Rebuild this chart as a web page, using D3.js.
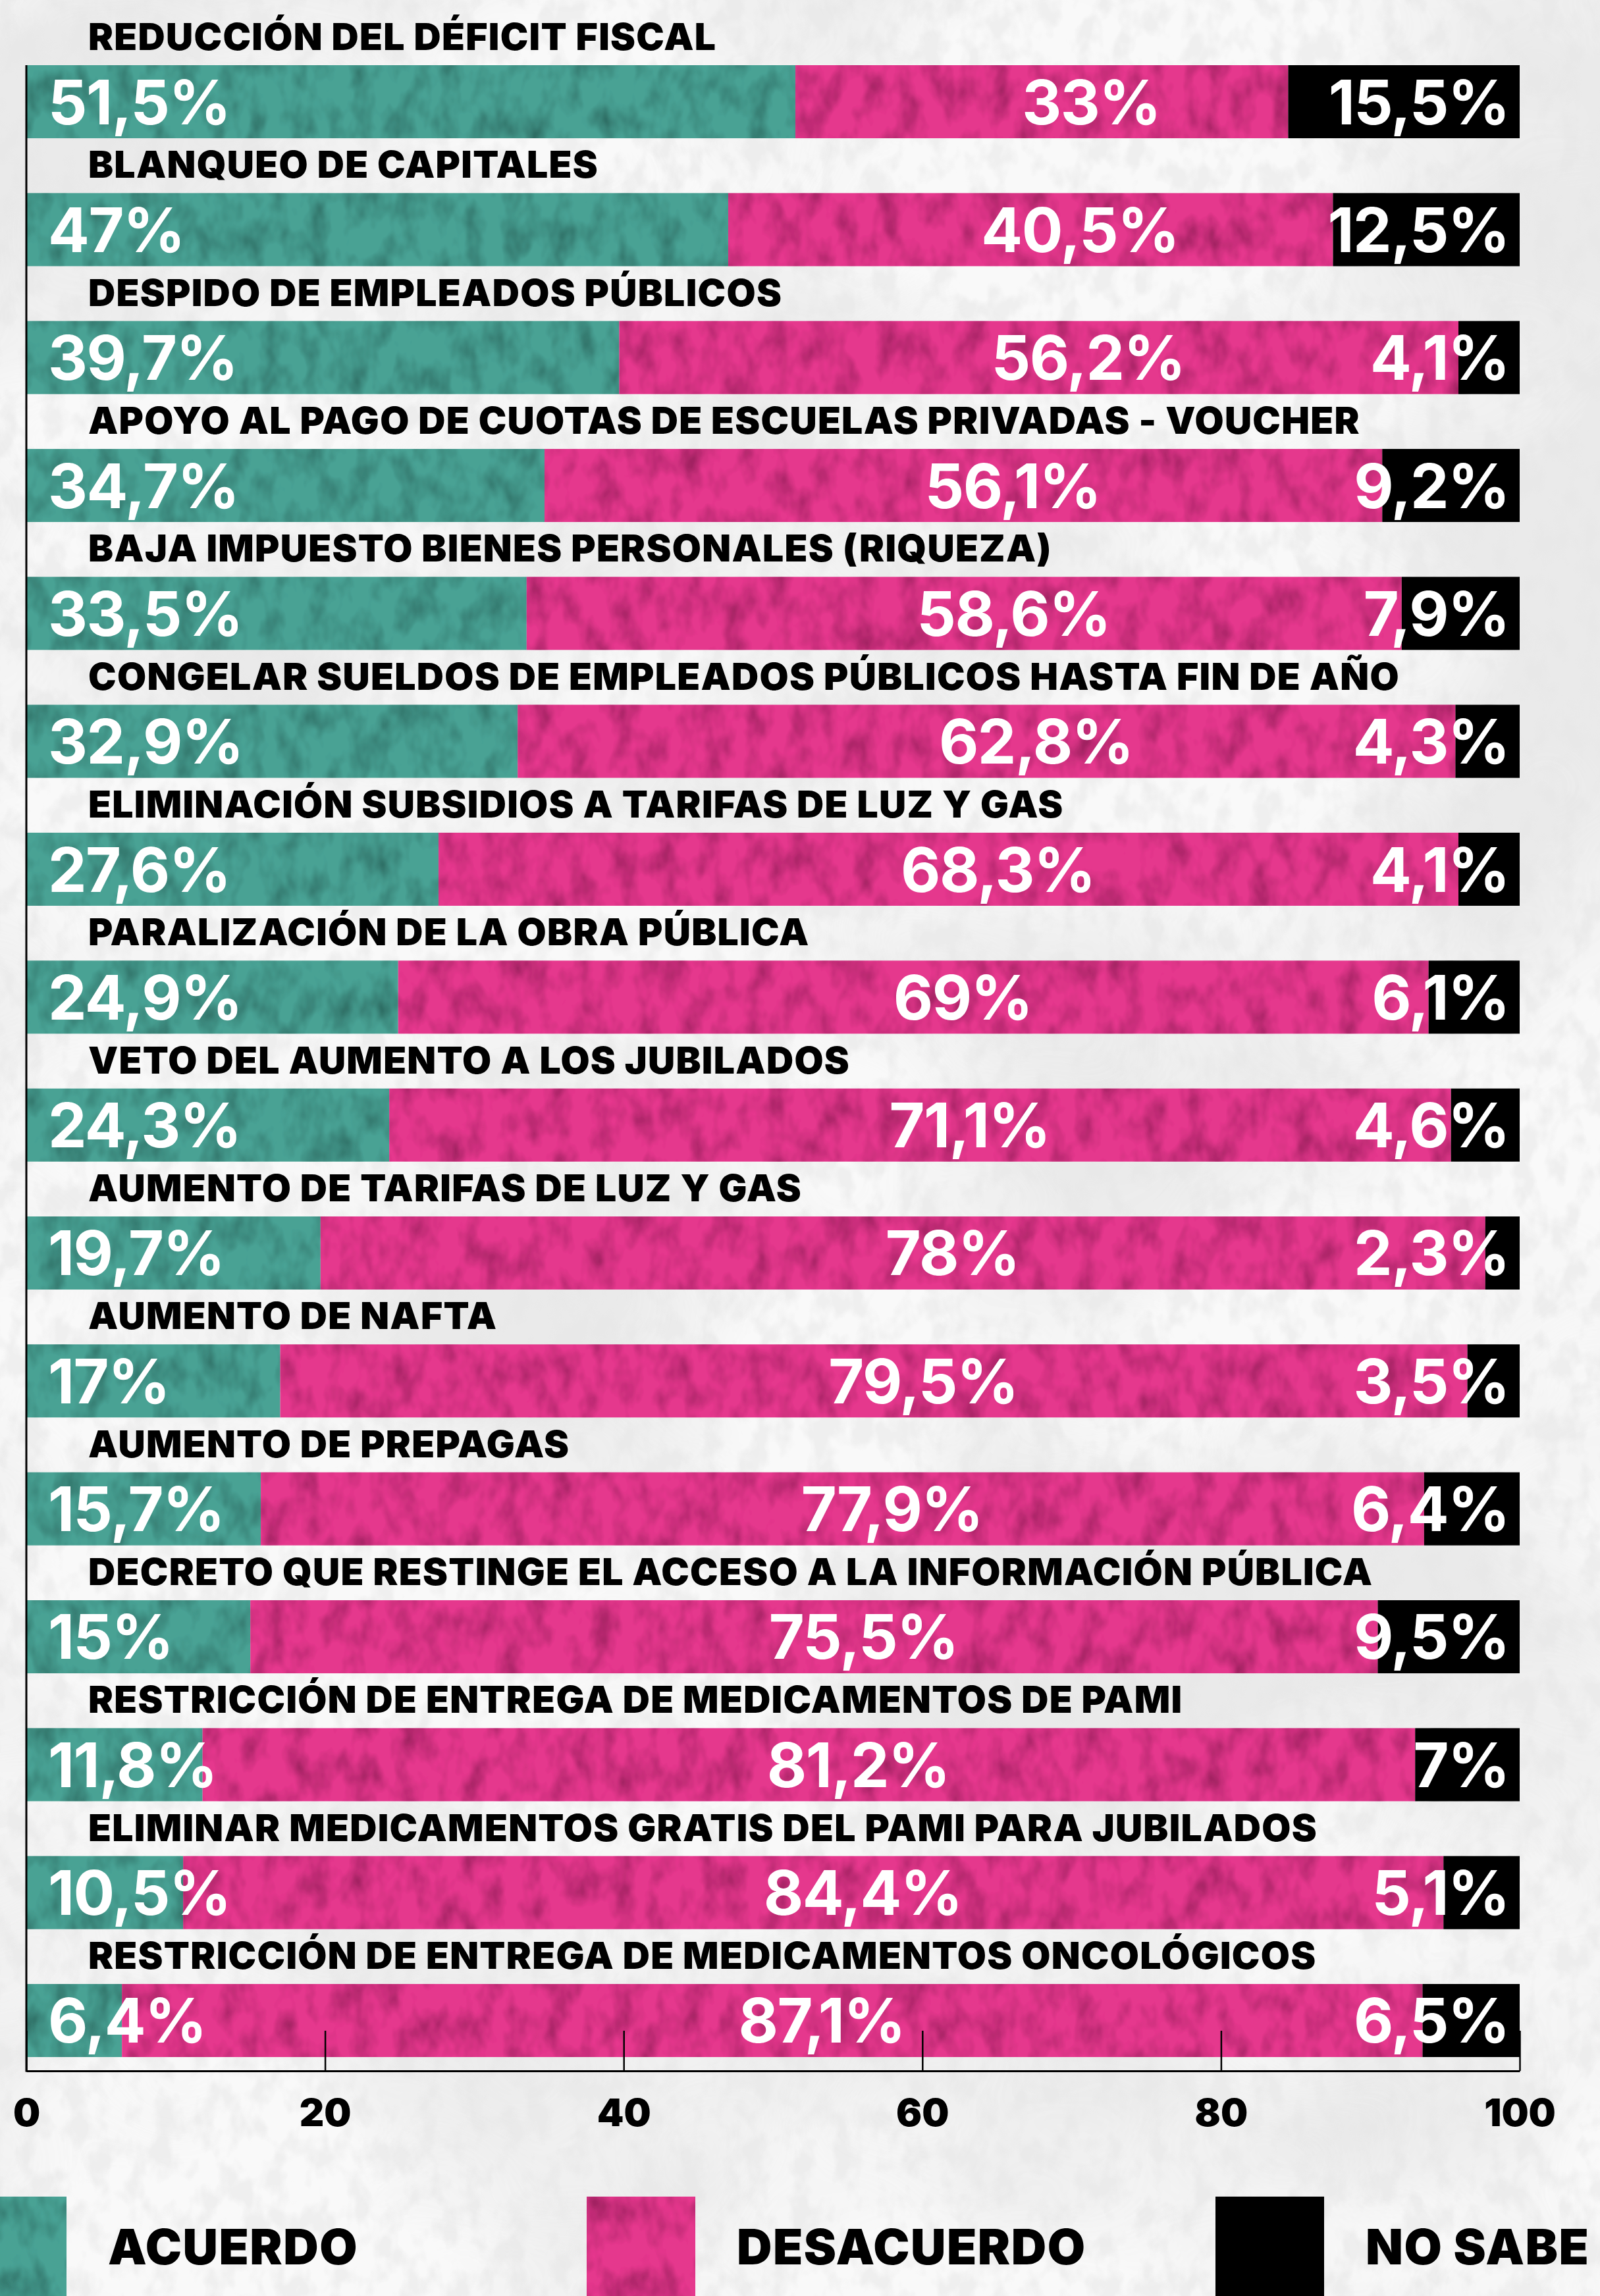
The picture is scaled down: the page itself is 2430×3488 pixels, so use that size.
<!DOCTYPE html>
<html lang="es">
<head>
<meta charset="utf-8">
<title>Medidas del gobierno: acuerdo y desacuerdo</title>
<script src="https://cdn.jsdelivr.net/npm/d3@7"></script>
<style>
  html, body { margin: 0; padding: 0; background: #f6f6f6; }
  svg { display: block; }
  text { font-family: Inter, "Open Sans", "DejaVu Sans", sans-serif; }
</style>
</head>
<body>
<svg id="chart" width="2430" height="3488"></svg>
<script>
// Medidas consultadas (de mayor a menor acuerdo)
const categories = [
  "REDUCCIÓN DEL DÉFICIT FISCAL",
  "BLANQUEO DE CAPITALES",
  "DESPIDO DE EMPLEADOS PÚBLICOS",
  "APOYO AL PAGO DE CUOTAS DE ESCUELAS PRIVADAS - VOUCHER",
  "BAJA IMPUESTO BIENES PERSONALES (RIQUEZA)",
  "CONGELAR SUELDOS DE EMPLEADOS PÚBLICOS HASTA FIN DE AÑO",
  "ELIMINACIÓN SUBSIDIOS A TARIFAS DE LUZ Y GAS",
  "PARALIZACIÓN DE LA OBRA PÚBLICA",
  "VETO DEL AUMENTO A LOS JUBILADOS",
  "AUMENTO DE TARIFAS DE LUZ Y GAS",
  "AUMENTO DE NAFTA",
  "AUMENTO DE PREPAGAS",
  "DECRETO QUE RESTINGE EL ACCESO A LA INFORMACIÓN PÚBLICA",
  "RESTRICCIÓN DE ENTREGA DE MEDICAMENTOS DE PAMI",
  "ELIMINAR MEDICAMENTOS GRATIS DEL PAMI PARA JUBILADOS",
  "RESTRICCIÓN DE ENTREGA DE MEDICAMENTOS ONCOLÓGICOS"
];

// Porcentajes por respuesta
const acuerdo    = [51.5, 47, 39.7, 34.7, 33.5, 32.9, 27.6, 24.9, 24.3, 19.7, 17, 15.7, 15, 11.8, 10.5, 6.4];
const desacuerdo = [33, 40.5, 56.2, 56.1, 58.6, 62.8, 68.3, 69, 71.1, 78, 79.5, 77.9, 75.5, 81.2, 84.4, 87.1];
const noSabe     = [15.5, 12.5, 4.1, 9.2, 7.9, 4.3, 4.1, 6.1, 4.6, 2.3, 3.5, 6.4, 9.5, 7, 5.1, 6.5];

const seriesKeys   = ["acuerdo", "desacuerdo", "noSabe"];
const seriesLabels = ["ACUERDO", "DESACUERDO", "NO SABE"];
const tickValues   = [0, 20, 40, 60, 80, 100];

const rows = categories.map((c, i) => ({
  categoria: c,
  acuerdo: acuerdo[i],
  desacuerdo: desacuerdo[i],
  noSabe: noSabe[i]
}));

const W = 2430, H = 3488;
const svg = d3.select("#chart");

const color = d3.scaleOrdinal()
  .domain(seriesKeys)
  .range(["#4aa294", "#e5398d", "#000000"]);

const x = d3.scaleLinear().domain([0, 100]).range([40, 2308]);
const y = d3.scaleBand().domain(categories).range([99, 3125]).paddingInner(0.4288).paddingOuter(0);
const axisY = 3146;

const fmt = v => String(v).replace(".", ",") + "%";

// ---------- filtros de textura ----------
const defs = svg.append("defs");

const coarse = defs.append("filter").attr("id", "paperCoarse")
  .attr("filterUnits", "userSpaceOnUse").attr("x", 0).attr("y", 0).attr("width", W).attr("height", H);
coarse.append("feTurbulence").attr("type", "fractalNoise")
  .attr("baseFrequency", "0.0014 0.0018").attr("numOctaves", 3).attr("seed", 4);
coarse.append("feColorMatrix").attr("type", "matrix")
  .attr("values", "0 0 0 0 0.80  0 0 0 0 0.80  0 0 0 0 0.80  3.4 0 0 0 -1.3");

const fine = defs.append("filter").attr("id", "paperFine")
  .attr("filterUnits", "userSpaceOnUse").attr("x", 0).attr("y", 0).attr("width", W).attr("height", H);
fine.append("feTurbulence").attr("type", "fractalNoise")
  .attr("baseFrequency", "0.03 0.02").attr("numOctaves", 3).attr("seed", 11);
fine.append("feColorMatrix").attr("type", "matrix")
  .attr("values", "0 0 0 0 0.80  0 0 0 0 0.80  0 0 0 0 0.80  4.0 0 0 0 -1.75");

const mottle = defs.append("filter").attr("id", "mottle")
  .attr("x", 0).attr("y", 0).attr("width", 1).attr("height", 1);
mottle.append("feTurbulence").attr("type", "fractalNoise")
  .attr("baseFrequency", "0.03 0.018").attr("numOctaves", 3).attr("seed", 5).attr("result", "t");
mottle.append("feColorMatrix").attr("in", "t").attr("type", "matrix")
  .attr("values", "0 0 0 0 0  0 0 0 0 0  0 0 0 0 0  1.1 0 0 0 -0.45").attr("result", "shade");
mottle.append("feComposite").attr("in", "shade").attr("in2", "SourceGraphic")
  .attr("operator", "in").attr("result", "shadeIn");
const mm = mottle.append("feMerge");
mm.append("feMergeNode").attr("in", "SourceGraphic");
mm.append("feMergeNode").attr("in", "shadeIn");

// ---------- fondo texturado ----------
svg.append("rect").attr("width", W).attr("height", H).attr("fill", "#f9f9f9");
svg.append("rect").attr("width", W).attr("height", H).attr("fill", "#fff")
  .attr("filter", "url(#paperCoarse)").attr("opacity", 0.8);
svg.append("rect").attr("width", W).attr("height", H).attr("fill", "#fff")
  .attr("filter", "url(#paperFine)").attr("opacity", 0.55);

// ---------- barras apiladas ----------
const stacked = d3.stack().keys(seriesKeys)(rows);

const layers = svg.append("g").attr("class", "bars")
  .selectAll("g").data(stacked).join("g")
  .attr("fill", d => color(d.key));

layers.selectAll("rect").data(d => d).join("rect")
  .attr("x", d => x(d[0]))
  .attr("y", d => y(d.data.categoria))
  .attr("width", d => x(d[1]) - x(d[0]))
  .attr("height", y.bandwidth())
  .attr("filter", "url(#mottle)");

// ---------- títulos de cada medida ----------
svg.append("g").attr("class", "titles")
  .selectAll("text").data(categories).join("text")
  .attr("x", x(0) + 94)
  .attr("y", c => y(c) - 23)
  .attr("font-size", 57)
  .attr("font-weight", 900)
  .attr("letter-spacing", 1.3)
  .attr("fill", "#000")
  .text(c => c);

// ---------- etiquetas de valores ----------
const labels = svg.append("g").attr("class", "values")
  .attr("fill", "#fff").attr("font-size", 93).attr("font-weight", 700)
  .attr("letter-spacing", -1.5);

const baseY = c => y(c) + y.bandwidth() / 2 + 34;

labels.selectAll("text.acuerdo").data(rows).join("text")
  .attr("class", "acuerdo")
  .attr("x", x(0) + 33)
  .attr("y", d => baseY(d.categoria))
  .attr("text-anchor", "start")
  .text(d => fmt(d.acuerdo));

labels.selectAll("text.desacuerdo").data(stacked[1]).join("text")
  .attr("class", "desacuerdo")
  .attr("x", d => (x(d[0]) + x(d[1])) / 2 + 75)
  .attr("y", d => baseY(d.data.categoria))
  .attr("text-anchor", "middle")
  .text(d => fmt(d.data.desacuerdo));

labels.selectAll("text.nosabe").data(rows).join("text")
  .attr("class", "nosabe")
  .attr("x", x(100) - 16)
  .attr("y", d => baseY(d.categoria))
  .attr("text-anchor", "end")
  .text(d => fmt(d.noSabe));

// ---------- ejes ----------
const xAxis = d3.axisBottom(x).tickValues(tickValues).tickSizeInner(-61).tickSizeOuter(0).tickPadding(0);
const gx = svg.append("g").attr("transform", `translate(0,${axisY})`).call(xAxis);
gx.select(".domain").attr("stroke", "#000").attr("stroke-width", 3);
gx.selectAll(".tick line").attr("stroke", "#000").attr("stroke-width", 2.5);
gx.selectAll(".tick text")
  .attr("y", 84).attr("dy", 0)
  .attr("font-size", 58).attr("font-weight", 900).attr("fill", "#000")
  .attr("font-family", "Inter, 'Open Sans', sans-serif");

svg.append("line")
  .attr("x1", x(0)).attr("x2", x(0))
  .attr("y1", y.range()[0]).attr("y2", axisY + 1.5)
  .attr("stroke", "#000").attr("stroke-width", 3);

// ---------- leyenda ----------
const legend = svg.append("g").attr("class", "legend")
  .selectAll("g").data(seriesKeys).join("g")
  .attr("transform", (k, i) => `translate(${-64 + i * 955},3337)`);

legend.append("rect")
  .attr("width", 165).attr("height", 170)
  .attr("fill", k => color(k))
  .attr("filter", "url(#mottle)");

legend.append("text")
  .attr("x", 228).attr("y", 103)
  .attr("font-size", 74).attr("font-weight", 900).attr("letter-spacing", 1.5).attr("fill", "#000")
  .text((k, i) => seriesLabels[i]);
</script>
</body>
</html>
